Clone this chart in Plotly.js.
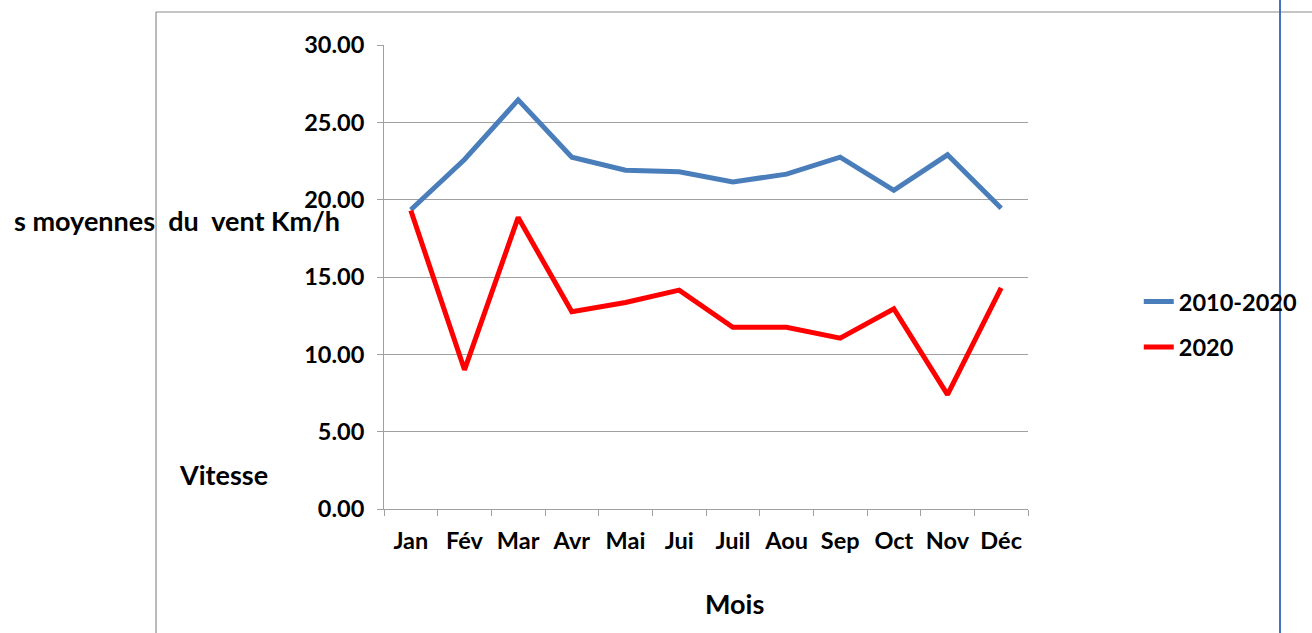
<!DOCTYPE html>
<html>
<head>
<meta charset="utf-8">
<script src="https://cdn.plot.ly/plotly-3.0.1.min.js"></script>
<style>html,body{margin:0;padding:0;background:#fff;}#chart{width:1312px;height:633px;}</style>
</head>
<body>
<div id="chart"></div>
<script>
const months = ["Jan", "Fév", "Mar", "Avr", "Mai", "Jui", "Juil", "Aou", "Sep", "Oct", "Nov", "Déc"];
const series2010_2020 = [19.35, 22.6, 26.45, 22.75, 21.9, 21.8, 21.15, 21.65, 22.75, 20.6, 22.9, 19.45];
const series2020 = [19.3, 9.0, 18.85, 12.75, 13.35, 14.15, 11.75, 11.75, 11.05, 12.95, 7.4, 14.3];
const yTicks = [0, 5, 10, 15, 20, 25, 30];

const FONT = {family: "Lato, 'Open Sans', sans-serif", size: 23.5, color: "#000", weight: 700};
const TFONT = {family: "Lato, 'Open Sans', sans-serif", size: 27, color: "#000", weight: 700};

const traces = [
  {x: months, y: series2010_2020, name: "2010-2020", type: "scatter", mode: "lines",
   line: {color: "#4a7ebb", width: 5}, legendgroup: "a"},
  {x: months, y: series2020, name: "2020", type: "scatter", mode: "lines",
   line: {color: "#ff0000", width: 5}, legendgroup: "b"}
];

const layout = {
  width: 1312, height: 633,
  margin: {l: 384, r: 284, t: 45, b: 124, autoexpand: false},
  paper_bgcolor: "#fff", plot_bgcolor: "#fff",
  font: FONT,
  showlegend: true,
  legend: {x: 1.172, xanchor: "left", y: 0.397, yanchor: "middle", font: FONT,
           tracegroupgap: 12, bgcolor: "rgba(0,0,0,0)"},
  xaxis: {type: "category", range: [-0.5, 11.5], showgrid: false,
          showline: true, linecolor: "#a0a0a0", linewidth: 1,
          ticks: "outside", tickson: "boundaries", ticklen: 6, tickcolor: "#a0a0a0",
          ticklabelstandoff: 11, tickfont: FONT, zeroline: false},
  yaxis: {range: [0, 30], tickvals: yTicks, tickformat: ".2f",
          showgrid: true, gridcolor: "#a0a0a0", gridwidth: 1,
          showline: true, linecolor: "#a0a0a0", linewidth: 1,
          ticks: "outside", ticklen: 6, tickcolor: "#a0a0a0",
          ticklabelstandoff: 8, tickfont: FONT, zeroline: false},
  annotations: [
    {text: "s moyennes\u00a0\u00a0du\u00a0\u00a0vent Km/h", xref: "paper", yref: "paper",
     x: -0.5776, y: 0.6228, xanchor: "left", yanchor: "middle", showarrow: false, font: TFONT},
    {text: "Vitesse", xref: "paper", yref: "paper",
     x: -0.3214, y: 0.0754, xanchor: "left", yanchor: "middle", showarrow: false, font: TFONT},
    {text: "Mois", xref: "paper", yref: "paper",
     x: 0.545, y: -0.2026, xanchor: "center", yanchor: "middle", showarrow: false, font: TFONT}
  ],
  shapes: [
    {type: "line", xref: "paper", yref: "paper", x0: -0.354, x1: -0.354, y0: 1.0711, y1: -0.3,
     line: {color: "#8c8c8c", width: 1.2}},
    {type: "line", xref: "paper", yref: "paper", x0: -0.354, x1: 1.45, y0: 1.0711, y1: 1.0711,
     line: {color: "#8c8c8c", width: 1.2}},
    {type: "line", xref: "paper", yref: "paper", x0: 1.3913, x1: 1.3913, y0: 1.12, y1: -0.3,
     line: {color: "#4472c4", width: 2}}
  ]
};

Plotly.newPlot("chart", traces, layout, {displayModeBar: false, staticPlot: true});
</script>
</body>
</html>
